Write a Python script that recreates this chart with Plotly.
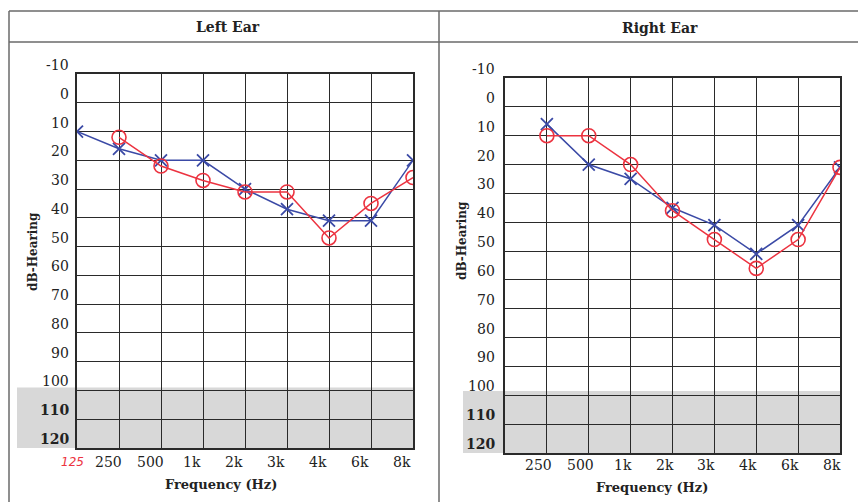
import plotly.graph_objects as go

# page body has an 8px margin; figure sized to fill the rest of the 866x502 window
OFF = 8
W, H = 866 - OFF, 502 - OFF

freq_labels = ["125", "250", "500", "1k", "2k", "3k", "4k", "6k", "8k"]
db_ticks = [-10, 0, 10, 20, 30, 40, 50, 60, 70, 80, 90, 100, 110, 120]

# Left ear
left_x_freq = ["125", "250", "500", "1k", "2k", "3k", "4k", "6k", "8k"]
left_x_db = [10, 16, 20, 20, 30, 37, 41, 41, 20]
left_o_freq = ["250", "500", "1k", "2k", "3k", "4k", "6k", "8k"]
left_o_db = [12, 22, 27, 31, 31, 47, 35, 26]

# Right ear
right_x_freq = ["250", "500", "1k", "2k", "3k", "4k", "6k", "8k"]
right_x_db = [6, 20, 25, 35, 41, 51, 41, 21]
right_o_freq = ["250", "500", "1k", "2k", "3k", "4k", "6k", "8k"]
right_o_db = [10, 10, 20, 36, 46, 56, 46, 21]


def px(x):
    return (x - OFF) / W


def py(y):
    return 1 - (y - OFF) / H


BLUE = "#3b4aa6"
RED = "#ec3340"
SERIF = "DejaVu Serif"
TXT = "#222222"

fig = go.Figure()

fig.add_trace(go.Scatter(x=left_x_freq, y=left_x_db, mode="lines+markers", xaxis="x", yaxis="y",
                         line=dict(color=BLUE, width=1.5),
                         marker=dict(symbol="x-thin", size=12, line=dict(color=BLUE, width=1.8)),
                         showlegend=False))
fig.add_trace(go.Scatter(x=left_o_freq, y=left_o_db, mode="lines+markers", xaxis="x", yaxis="y",
                         line=dict(color=RED, width=1.5),
                         marker=dict(symbol="circle-open", size=14, line=dict(color=RED, width=1.6)),
                         showlegend=False))
fig.add_trace(go.Scatter(x=right_x_freq, y=right_x_db, mode="lines+markers", xaxis="x2", yaxis="y2",
                         line=dict(color=BLUE, width=1.5),
                         marker=dict(symbol="x-thin", size=12, line=dict(color=BLUE, width=1.8)),
                         showlegend=False))
fig.add_trace(go.Scatter(x=right_o_freq, y=right_o_db, mode="lines+markers", xaxis="x2", yaxis="y2",
                         line=dict(color=RED, width=1.5),
                         marker=dict(symbol="circle-open", size=14, line=dict(color=RED, width=1.6)),
                         showlegend=False))

xcommon = dict(type="category", categoryorder="array", categoryarray=freq_labels,
               range=[0, len(freq_labels) - 1], showgrid=True, gridcolor="#2a2a2a", gridwidth=1.3,
               showticklabels=False, ticks="", showline=True, linecolor="#2a2a2a", linewidth=1.5,
               mirror=True, zeroline=False, fixedrange=True)
ycommon = dict(range=[db_ticks[-1], db_ticks[0]], tickvals=db_ticks, showgrid=True,
               gridcolor="#2a2a2a", gridwidth=1.3, showticklabels=False, ticks="", showline=True,
               linecolor="#2a2a2a", linewidth=1.5, mirror=True, zeroline=False, fixedrange=True)

fig.update_layout(
    width=W, height=H,
    margin=dict(l=0, r=0, t=0, b=0),
    paper_bgcolor="white", plot_bgcolor="rgba(0,0,0,0)",
    xaxis=dict(domain=[px(77), px(413)], anchor="y", **xcommon),
    yaxis=dict(domain=[py(448), py(74)], anchor="x", **ycommon),
    xaxis2=dict(domain=[px(505), px(840)], anchor="y2", **xcommon),
    yaxis2=dict(domain=[py(453), py(78)], anchor="x2", **ycommon),
)

shapes = []
frame = dict(color="#6a6a6a", width=1.5)
shapes.append(dict(type="line", xref="paper", yref="paper", x0=px(9), x1=1, y0=py(11), y1=py(11), line=frame))
shapes.append(dict(type="line", xref="paper", yref="paper", x0=px(9), x1=1, y0=py(42), y1=py(42), line=frame))
shapes.append(dict(type="line", xref="paper", yref="paper", x0=px(9), x1=px(9), y0=py(11), y1=0, line=frame))
shapes.append(dict(type="line", xref="paper", yref="paper", x0=px(439), x1=px(439), y0=py(11), y1=0, line=frame))
# shaded region (beyond audiometer limits)
shapes.append(dict(type="rect", xref="paper", yref="y", x0=px(17), x1=px(413), y0=99, y1=120,
                   fillcolor="#d8d8d8", line=dict(width=0), layer="below"))
shapes.append(dict(type="rect", xref="paper", yref="y2", x0=px(463), x1=px(840), y0=98.5, y1=120,
                   fillcolor="#d8d8d8", line=dict(width=0), layer="below"))
fig.update_layout(shapes=shapes)

ann = []


def text_at(text, x, y, size, color=TXT, family=SERIF, **kw):
    d = dict(text=text, xref="paper", yref="paper", x=px(x), y=py(y), xanchor="center",
             yanchor="middle", showarrow=False, font=dict(family=family, size=size, color=color))
    d.update(kw)
    ann.append(d)


text_at("<b>Left Ear</b>", 228, 27, 14)
text_at("<b>Right Ear</b>", 660, 28, 14)

for yref, xpos in (("y", 71), ("y2", 497)):
    for v in db_ticks:
        bold = v >= 110
        ann.append(dict(text=f"<b>{v}</b>" if bold else str(v), xref="paper", yref=yref, x=px(xpos), y=v,
                        xanchor="right", yanchor="middle", yshift=9, showarrow=False,
                        font=dict(family=SERIF, size=14, color=TXT)))

for i, lab in enumerate(freq_labels):
    if lab == "125":
        ann.append(dict(text="<i>125</i>", xref="x", yref="paper", x=i, y=py(462), xshift=-5,
                        xanchor="center", yanchor="middle",
                        showarrow=False, font=dict(family="DejaVu Sans", size=12, color=RED)))
    else:
        ann.append(dict(text=lab, xref="x", yref="paper", x=i, y=py(462), xshift=-11,
                        xanchor="center", yanchor="middle",
                        showarrow=False, font=dict(family=SERIF, size=14, color=TXT)))
        ann.append(dict(text=lab, xref="x2", yref="paper", x=i, y=py(465), xshift=-8,
                        xanchor="center", yanchor="middle",
                        showarrow=False, font=dict(family=SERIF, size=14, color=TXT)))

text_at("<b>Frequency (Hz)</b>", 221, 484, 13)
text_at("<b>Frequency (Hz)</b>", 652, 487, 13)
text_at("<b>dB-Hearing</b>", 33, 252, 12, textangle=-90)
text_at("<b>dB-Hearing</b>", 462, 240, 12, textangle=-90)

fig.update_layout(annotations=ann)

fig.write_html("out.html")
